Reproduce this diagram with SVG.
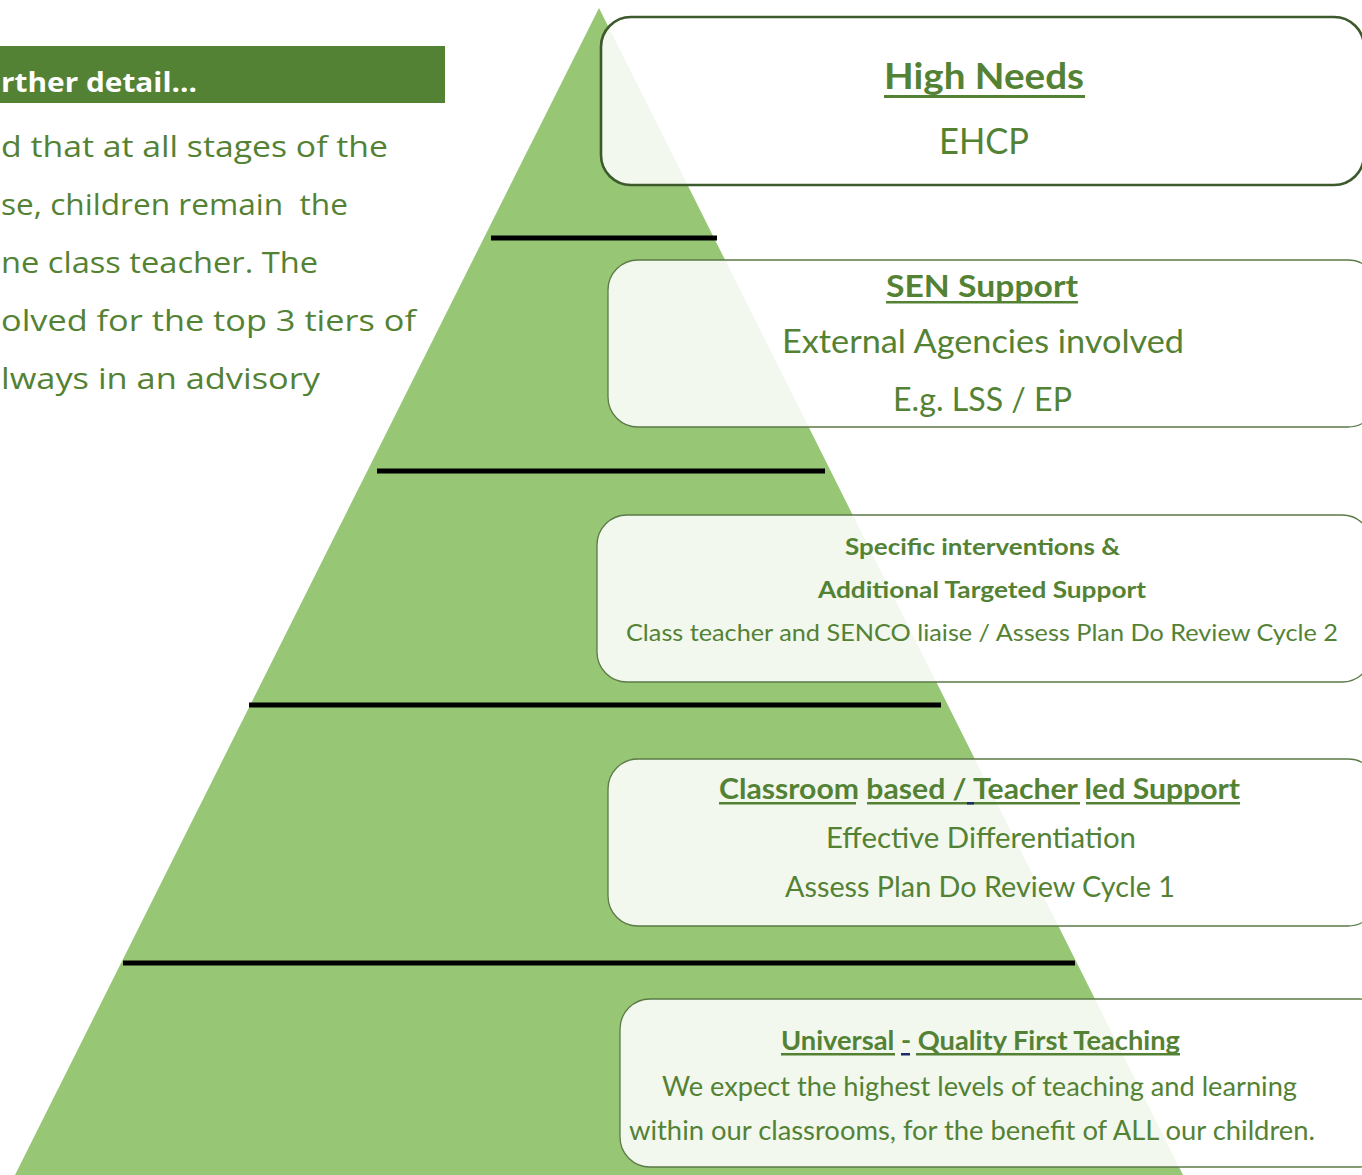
<svg xmlns="http://www.w3.org/2000/svg" width="1362" height="1175" viewBox="0 0 1362 1175">
<style>
.bx{fill:#ffffff;fill-opacity:0.88;stroke:#5b7a48;stroke-width:1.3}
.bx1{fill:#ffffff;fill-opacity:0.88;stroke:#3c5a2b;stroke-width:2.6}
.t{font-family:Lato,"Open Sans",sans-serif;fill:#548235}
.b{font-weight:bold}
.lt{font-family:"Open Sans","Noto Sans",sans-serif;fill:#548235;font-size:29px}
.ul{fill:#548235}
.ulb{fill:#1f2a6b}
.tier{stroke:#000000;stroke-width:5;fill:none}
</style>
<rect width="1362" height="1175" fill="#ffffff"/>
<g id="intro">
<rect x="0" y="46" width="445" height="57" fill="#548235"/>
<text x="1" y="92" font-family="'Open Sans','Noto Sans',sans-serif" font-weight="bold" font-size="26" fill="#ffffff" textLength="196" lengthAdjust="spacingAndGlyphs">rther detail...</text>
<text class="lt" x="1" y="157" textLength="387" lengthAdjust="spacingAndGlyphs">d that at all stages of the</text>
<text class="lt" x="1" y="215" textLength="347" lengthAdjust="spacingAndGlyphs" xml:space="preserve">se, children remain  the</text>
<text class="lt" x="1" y="273" textLength="317" lengthAdjust="spacingAndGlyphs">ne class teacher. The</text>
<text class="lt" x="1" y="331" textLength="415" lengthAdjust="spacingAndGlyphs">olved for the top 3 tiers of</text>
<text class="lt" x="1" y="389" textLength="319" lengthAdjust="spacingAndGlyphs">lways in an advisory</text>
</g>
<g id="pyramid">
<polygon points="599,8 1183,1175 15,1175" fill="#97c675"/>
</g>
<g id="connectors">
<line class="tier" x1="491" y1="238" x2="717" y2="238"/>
<line class="tier" x1="377" y1="471" x2="825" y2="471"/>
<line class="tier" x1="249" y1="705" x2="941" y2="705"/>
<line class="tier" x1="123" y1="963" x2="1075" y2="963"/>
</g>
<g id="high-needs">
<rect class="bx1" x="601" y="17" width="763" height="168" rx="30"/>
<text class="t b" x="884" y="89" font-size="36" textLength="200" lengthAdjust="spacingAndGlyphs">High Needs</text>
<rect class="ul" x="884" y="95" width="201" height="3"/>
<text class="t" x="939" y="154" font-size="36" textLength="90" lengthAdjust="spacingAndGlyphs">EHCP</text>
</g>
<g id="sen-support">
<rect class="bx" x="608" y="260" width="770" height="167" rx="30"/>
<text class="t b" x="886" y="297" font-size="31" textLength="192" lengthAdjust="spacingAndGlyphs">SEN Support</text>
<rect class="ul" x="886" y="301" width="192" height="2.5"/>
<text class="t" x="782" y="353" font-size="32" textLength="402" lengthAdjust="spacingAndGlyphs">External Agencies involved</text>
<text class="t" x="893" y="411" font-size="32" textLength="179" lengthAdjust="spacingAndGlyphs">E.g. LSS / EP</text>
</g>
<g id="targeted">
<rect class="bx" x="597" y="515" width="775" height="167" rx="30"/>
<text class="t b" x="845" y="555" font-size="23" textLength="275" lengthAdjust="spacingAndGlyphs">Specific interventions &amp;</text>
<text class="t b" x="818" y="598" font-size="23" textLength="328" lengthAdjust="spacingAndGlyphs">Additional Targeted Support</text>
<text class="t" x="626" y="641" font-size="24" textLength="712" lengthAdjust="spacingAndGlyphs">Class teacher and SENCO liaise / Assess Plan Do Review Cycle 2</text>
</g>
<g id="classroom">
<rect class="bx" x="608" y="759" width="770" height="167" rx="30"/>
<text class="t b" x="719" y="799" font-size="28" textLength="521" lengthAdjust="spacingAndGlyphs">Classroom  based / Teacher led Support</text>
<rect class="ul" x="719" y="802" width="137" height="2.5"/>
<rect class="ul" x="867" y="802" width="213" height="2.5"/>
<rect class="ulb" x="967" y="802" width="7" height="2.5"/>
<rect class="ul" x="1086" y="802" width="154" height="2.5"/>
<text class="t" x="826" y="848" font-size="28" textLength="310" lengthAdjust="spacingAndGlyphs">Effective Differentiation</text>
<text class="t" x="785" y="897" font-size="28" textLength="390" lengthAdjust="spacingAndGlyphs">Assess Plan Do Review Cycle 1</text>
</g>
<g id="universal">
<rect class="bx" x="620" y="999" width="770" height="168" rx="30"/>
<text class="t b" x="781" y="1050" font-size="26" textLength="399" lengthAdjust="spacingAndGlyphs">Universal - Quality First Teaching</text>
<rect class="ul" x="781" y="1053" width="114" height="2.5"/>
<rect class="ulb" x="901" y="1053" width="9" height="2.5"/>
<rect class="ul" x="916" y="1053" width="264" height="2.5"/>
<text class="t" x="662" y="1096" font-size="26" textLength="635" lengthAdjust="spacingAndGlyphs">We expect the highest levels of teaching and learning</text>
<text class="t" x="629" y="1140" font-size="26" textLength="686" lengthAdjust="spacingAndGlyphs">within our classrooms, for the benefit of ALL our children.</text>
</g>
</svg>
